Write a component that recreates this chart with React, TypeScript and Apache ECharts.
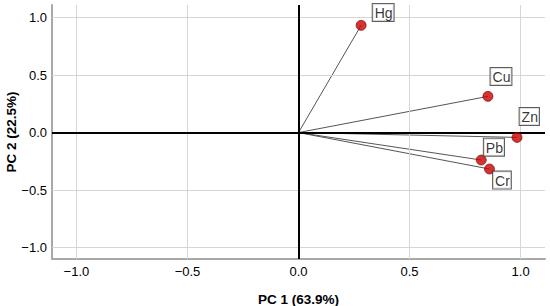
import React, { useEffect, useRef } from "react";
import * as echarts from "echarts";

const variables = ["Hg", "Cu", "Zn", "Pb", "Cr"];
const pc1Loadings = [0.282, 0.853, 0.984, 0.823, 0.86];
const pc2Loadings = [0.933, 0.315, -0.042, -0.239, -0.317];
const tickValues = [-1.0, -0.5, 0.0, 0.5, 1.0];
const xTitle = "PC 1 (63.9%)";
const yTitle = "PC 2 (22.5%)";

const FONT = "'Liberation Sans', Arial, sans-serif";

const labelPos: Record<string, [number, number]> = {
  Hg: [17, -16],
  Cu: [8, -23],
  Zn: [8, -24],
  Pb: [8, -16],
  Cr: [9, 8],
};

const fmt = (v: number) => v.toFixed(1).replace("-", "\u2212");

export default function App() {
  const ref = useRef<HTMLDivElement>(null);
  useEffect(() => {
    if (!ref.current) return;
    const chart = echarts.init(ref.current, undefined, { renderer: "svg" });
    const gridX = tickValues.filter((v) => v !== 0).map((v) => ({ xAxis: v }));
    const gridY = tickValues.filter((v) => v !== 0).map((v) => ({ yAxis: v }));
    const vectorSeries = variables.map((name, i) => ({
      type: "line",
      name: name + "-vec",
      data: [
        [0, 0],
        [pc1Loadings[i], pc2Loadings[i]],
      ],
      symbol: "none",
      lineStyle: { color: "#555555", width: 1 },
      z: 3,
      silent: true,
    }));
    chart.setOption({
      animation: false,
      textStyle: { fontFamily: FONT },
      grid: {
        left: 52,
        right: 5,
        top: 5,
        bottom: 47,
        containLabel: false,
        outerBoundsMode: "none",
      },
      xAxis: {
        type: "value",
        min: -1.11,
        max: 1.11,
        name: xTitle,
        nameLocation: "middle",
        nameGap: 33,
        nameMoveOverlap: false,
        nameTextStyle: { fontSize: 13.5, fontWeight: "bold", color: "#000", fontFamily: FONT },
        axisLine: { show: true, onZero: false, lineStyle: { color: "#a8a8a8", width: 2 } },
        axisTick: { show: false },
        splitLine: { show: false },
        axisLabel: {
          customValues: tickValues,
          formatter: (v: number) => fmt(v),
          fontSize: 13,
          color: "#000",
          margin: 6,
          fontFamily: FONT,
        },
      },
      yAxis: {
        type: "value",
        min: -1.1,
        max: 1.11,
        name: yTitle,
        nameLocation: "middle",
        nameGap: 34,
        nameMoveOverlap: false,
        nameTextStyle: { fontSize: 13.5, fontWeight: "bold", color: "#000", fontFamily: FONT },
        axisLine: { show: true, onZero: false, lineStyle: { color: "#a8a8a8", width: 2 } },
        axisTick: { show: false },
        splitLine: { show: false },
        axisLabel: {
          customValues: tickValues,
          formatter: (v: number) => fmt(v),
          fontSize: 13,
          color: "#000",
          margin: 5,
          fontFamily: FONT,
        },
      },
      series: [
        {
          type: "line",
          name: "grid",
          data: [],
          silent: true,
          z: 1,
          markLine: {
            silent: true,
            symbol: "none",
            label: { show: false },
            lineStyle: { color: "#d6d6d6", width: 1, type: "solid" },
            data: [...gridX, ...gridY],
          },
        },
        {
          type: "line",
          name: "zero",
          data: [],
          silent: true,
          z: 2,
          markLine: {
            silent: true,
            symbol: "none",
            label: { show: false },
            lineStyle: { color: "#000000", width: 2, type: "solid" },
            data: [{ xAxis: 0 }, { yAxis: 0 }],
          },
        },
        ...vectorSeries,
        {
          type: "scatter",
          name: "loadings",
          z: 5,
          symbolSize: 10,
          itemStyle: { color: "#c80000", borderColor: "#7a0000", borderWidth: 0.8 },
          data: variables.map((name, i) => ({
            name,
            value: [pc1Loadings[i], pc2Loadings[i]],
            label: { position: labelPos[name] },
          })),
          label: {
            show: true,
            formatter: (p: any) => p.name,
            fontSize: 14,
            color: "#000",
            fontFamily: FONT,
            backgroundColor: "#ffffff",
            borderColor: "#333333",
            borderWidth: 1,
            padding: [2, 1, 1, 2],
          },
        },
      ],
    });
    return () => chart.dispose();
  }, []);
  return (
    <div
      ref={ref}
      style={{ position: "absolute", left: 0, top: 0, width: 550, height: 306, background: "#fff" }}
    />
  );
}
